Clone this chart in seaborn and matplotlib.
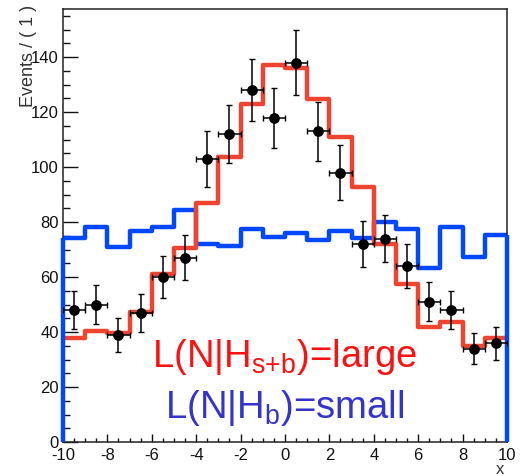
import numpy as np
import matplotlib
matplotlib.use("Agg")
import matplotlib.pyplot as plt
import seaborn as sns
from matplotlib.ticker import MultipleLocator

# bins of width 1 on [-10, 10]
x_range = (-10, 10)
n_bins = 20
bin_centers = [-9.5, -8.5, -7.5, -6.5, -5.5, -4.5, -3.5, -2.5, -1.5, -0.5,
               0.5, 1.5, 2.5, 3.5, 4.5, 5.5, 6.5, 7.5, 8.5, 9.5]

# observed events
data_counts = [48, 50, 39, 47, 60, 67, 103, 112, 128, 118,
               138, 113, 98, 72, 74, 64, 51, 48, 34, 36]
data_err = [6.9, 7.1, 6.2, 6.9, 7.7, 8.2, 10.1, 10.6, 11.3, 10.9,
            11.7, 10.6, 9.9, 8.5, 8.6, 8.0, 7.1, 6.9, 5.8, 6.0]

# signal + background model
sb_counts = [37.7, 40.4, 39.7, 47.4, 61.0, 70.7, 87.0, 103.5, 122.8, 137.1,
             135.9, 124.7, 111.0, 92.8, 72.2, 57.3, 41.7, 43.8, 35.0, 38.0]
# background only model
b_counts = [74.1, 78.3, 71.0, 76.7, 78.3, 84.4, 71.9, 71.4, 77.5, 74.7,
            76.1, 73.5, 76.7, 74.3, 79.9, 77.5, 63.4, 78.3, 67.4, 75.3]

red_line = "#ee4430"
blue_line = "#0048ff"
red_text = "#ff1010"
blue_text = "#3434cc"

sns.set_style("ticks")
plt.rcParams["font.family"] = ["Liberation Sans", "DejaVu Sans"]
plt.rcParams["mathtext.fontset"] = "custom"
plt.rcParams["mathtext.rm"] = "Liberation Sans"
plt.rcParams["mathtext.it"] = "Liberation Sans"
plt.rcParams["axes.unicode_minus"] = False

fig = plt.figure(figsize=(5.2, 4.76), dpi=100)
ax = fig.add_axes([0.121, 0.0714, 0.854, 0.9096])

sns.histplot(x=bin_centers, weights=b_counts, bins=n_bins, binrange=x_range,
             element="step", fill=False, color=blue_line, linewidth=3.2, ax=ax)
ax.vlines([x_range[0], x_range[1]], 0, [b_counts[0], b_counts[-1]],
          color=blue_line, linewidth=3.2, clip_on=False, zorder=3)
sns.histplot(x=bin_centers, weights=sb_counts, bins=n_bins, binrange=x_range,
             element="step", fill=False, color=red_line, linewidth=3.2, ax=ax)

ax.errorbar(bin_centers, data_counts, xerr=0.5, yerr=data_err, fmt="none",
            ecolor="black", elinewidth=1.1, capsize=2.2, capthick=1.0, zorder=4)
sns.scatterplot(x=bin_centers, y=data_counts, color="black", s=60,
                edgecolor="black", linewidth=0, ax=ax, zorder=5)

ax.text(0, 27.3, r"L(N|H$_\mathrm{s{+}b}$)=large", color=red_text, fontsize=27.5,
        ha="center", va="baseline")
ax.text(0, 8.7, r"L(N|H$_\mathrm{b}$)=small", color=blue_text, fontsize=27.5,
        ha="center", va="baseline")

ax.set_xlim(*x_range)
ax.set_ylim(0, 157.5)
ax.xaxis.set_major_locator(MultipleLocator(2))
ax.xaxis.set_minor_locator(MultipleLocator(0.5))
ax.yaxis.set_major_locator(MultipleLocator(20))
ax.yaxis.set_minor_locator(MultipleLocator(5))
ax.tick_params(axis="both", which="both", direction="in", colors="#111111",
               labelsize=12)
ax.tick_params(axis="y", which="major", length=11, width=1.0, pad=3)
ax.tick_params(axis="y", which="minor", length=5, width=1.0)
ax.tick_params(axis="x", which="major", length=6, width=1.0, pad=4)
ax.tick_params(axis="x", which="minor", length=3, width=1.0)

for side in ["top", "right", "bottom", "left"]:
    ax.spines[side].set_visible(True)
    ax.spines[side].set_linewidth(1.1)
    ax.spines[side].set_color("#222222")

ax.set_ylabel("Events / ( 1 )", loc="top", fontsize=13, color="#333333")
ax.yaxis.set_label_coords(-0.058, 1.01)
ax.set_xlabel("x", loc="right", fontsize=12, color="#333333")
ax.xaxis.set_label_coords(0.993, -0.046)

fig.savefig("out.png", dpi=100)
